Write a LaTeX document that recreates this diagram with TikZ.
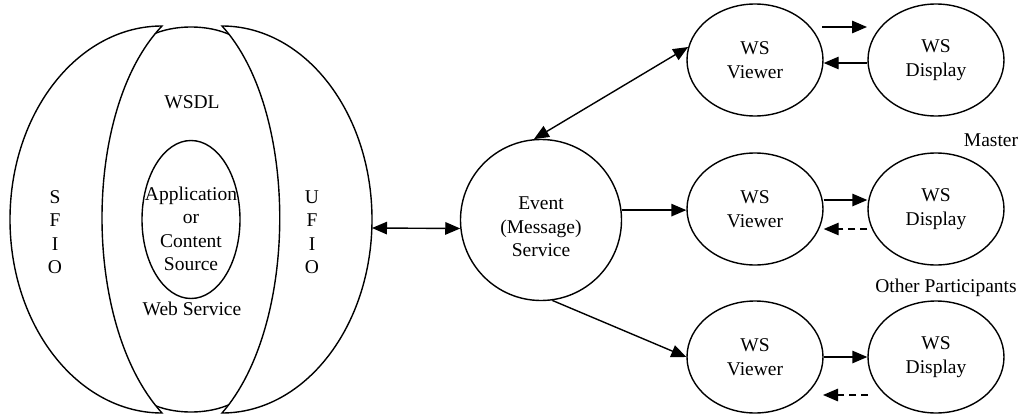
\documentclass[tikz,border=0pt]{standalone}
\usepackage{fontspec}
\setmainfont{Liberation Serif}
\usetikzlibrary{arrows.meta,shapes.geometric}
\begin{document}
\begin{tikzpicture}[x=1pt,y=-1pt,
  every node/.style={font=\fontsize{19.5}{23.5}\selectfont, align=center, inner sep=0pt},
  line/.style={line width=1.4pt},
  tip/.tip={Triangle[length=15pt,width=12.5pt]},
  arr/.style={line width=1.4pt, -tip},
  darr/.style={line width=1.4pt, tip-tip},
  dsh/.style={arr, dash pattern=on 7pt off 5pt},
  oval/.style={draw, line width=1.4pt, ellipse, minimum width=136pt, minimum height=112pt, inner sep=0pt},
]
\useasboundingbox (0,0) rectangle (1023,415);
% globe
\draw[line] (140,42) .. controls (165,22) and (217,22) .. (242,42);
\draw[line] (140,397) .. controls (165,417) and (217,417) .. (242,397);
\draw[line, fill=white] (162,26) arc[start angle=270, end angle=90, x radius=152, y radius=193.5]
  .. controls (82,325) and (82,110) .. (162,26) -- cycle;
\draw[line, fill=white] (222,26) arc[start angle=270, end angle=450, x radius=150, y radius=193.5]
  .. controls (299,325) and (299,110) .. (222,26) -- cycle;
\node[draw, line width=1.4pt, ellipse, minimum width=98pt, minimum height=158pt] (app) at (191,219.5) {};
\node (apptext) at (191,229) {Application\\or\\Content\\Source};
\node (wsdl) at (192,102) {WSDL};
\node (ws) at (192,309) {Web Service};
\node (sfio) at (55,232) {S\\F\\I\\O};
\node (ufio) at (312,232) {U\\F\\I\\O};
\coordinate (g) at (372,228);
% event service
\node[draw, circle, line width=1.4pt, minimum size=161pt] (ev) at (541,220) {};
\node (evtext) at (541,227) {Event\\(Message)\\Service};
% viewers and displays
\node[oval] (v1) at (755,60) {WS\\Viewer};
\node[oval] (d1) at (936,60) {WS\\Display};
\node[oval] (v2) at (755,209) {WS\\Viewer};
\node[oval] (d2) at (936,209) {WS\\Display};
\node[oval] (v3) at (755,357) {WS\\Viewer};
\node[oval] (d3) at (936,357) {WS\\Display};
\node (master) at (991,140) {Master};
\node (others) at (946,288) {Other Participants};
% connectors
\draw[darr] (g) -- (ev.186);
\draw[darr] (ev.95) -- (v1.169);
\draw[arr] (ev.7) -- (ev.7 -| v2.west);
\draw[arr] (ev.-82) -- (v3.west);
\coordinate (t1s) at (822,27);
\coordinate (t1e) at (867,27);
\draw[arr] (t1s) -- (t1e);
\draw[arr] ([yshift=-3pt]d1.west) -- ([yshift=-3pt]v1.east);
\draw[arr] ([yshift=9pt]v2.east) -- ([yshift=9pt]d2.west);
\draw[dsh] ([yshift=-20pt]d2.west) -- ([yshift=-20pt]v2.east);
\draw[arr] (v3.east) -- (d3.west);
\coordinate (b1s) at (868,395);
\coordinate (b1e) at (823,395);
\draw[dsh] (b1s) -- (b1e);
\end{tikzpicture}
\end{document}
